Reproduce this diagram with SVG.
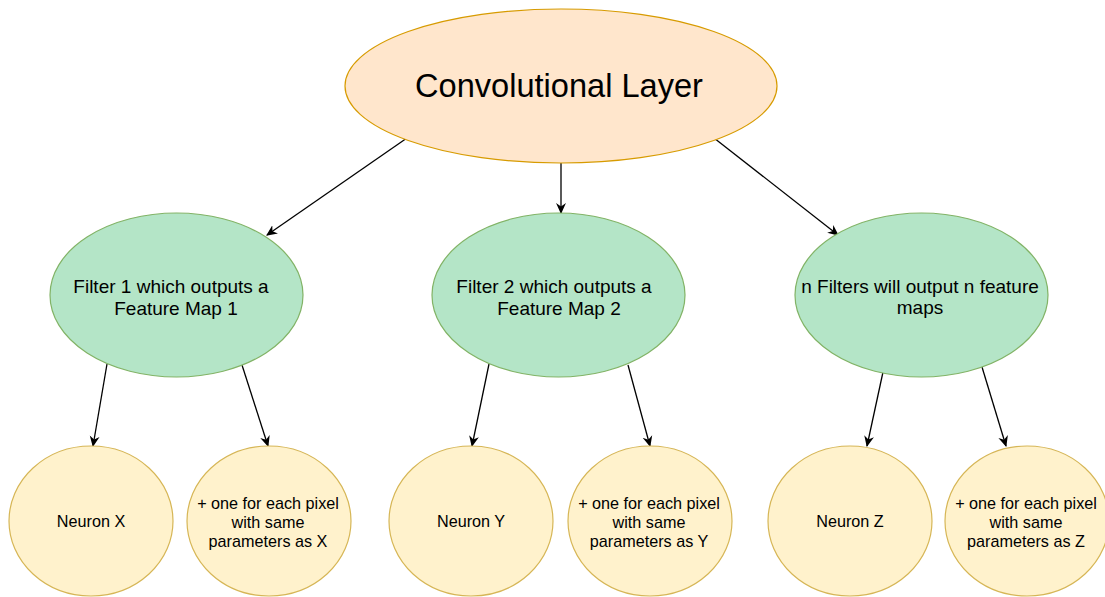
<svg xmlns="http://www.w3.org/2000/svg" width="1105" height="597" viewBox="0 0 1105 597">
  <style>
    .layer { fill: #ffe6cc; stroke: #d79b00; stroke-width: 1.2; }
    .filter { fill: #b4e5c7; stroke: #82b366; stroke-width: 1.2; }
    .neuron { fill: #fff2cc; stroke: #d6b656; stroke-width: 1.2; }
    text { font-family: "Liberation Sans", Arial, Helvetica, sans-serif; fill: #000; text-anchor: middle; }
    .t-big { font-size: 32.6px; }
    .t-mid { font-size: 19px; }
    .t-small { font-size: 16.2px; }
    .edge { stroke: #000; stroke-width: 1.3; fill: none; marker-end: url(#arrow); }
  </style>
  <defs>
    <marker id="arrow" viewBox="0 0 10 10" refX="9" refY="5" markerWidth="11" markerHeight="11" markerUnits="userSpaceOnUse" orient="auto">
      <path d="M0,0.5 L10,5 L0,9.5 L3,5 z" fill="#000"/>
    </marker>
  </defs>

  <rect width="1105" height="597" fill="#fff"/>

  <!-- connectors -->
  <g id="connectors">
    <line class="edge" x1="407" y1="138" x2="267" y2="235"/>
    <line class="edge" x1="561" y1="163" x2="561" y2="213"/>
    <line class="edge" x1="714" y1="138" x2="838" y2="235"/>

    <line class="edge" x1="107" y1="364" x2="93" y2="446"/>
    <line class="edge" x1="242" y1="365" x2="268" y2="446"/>

    <line class="edge" x1="489" y1="364" x2="472" y2="446"/>
    <line class="edge" x1="628" y1="365" x2="650" y2="446"/>

    <line class="edge" x1="883" y1="372" x2="867" y2="446"/>
    <line class="edge" x1="982" y1="367" x2="1006" y2="446"/>
  </g>

  <!-- top node -->
  <g id="conv-layer">
    <ellipse class="layer" cx="561" cy="86" rx="216" ry="77"/>
    <text class="t-big" x="559" y="97">Convolutional Layer</text>
  </g>

  <!-- filter nodes -->
  <g id="filter-1">
    <ellipse class="filter" cx="176.5" cy="295" rx="126.5" ry="82"/>
    <text class="t-mid" x="171" y="293">Filter 1 which outputs a</text>
    <text class="t-mid" x="176" y="315">Feature Map 1</text>
  </g>
  <g id="filter-2">
    <ellipse class="filter" cx="558.5" cy="295" rx="126.5" ry="82"/>
    <text class="t-mid" x="554" y="293">Filter 2 which outputs a</text>
    <text class="t-mid" x="559" y="315">Feature Map 2</text>
  </g>
  <g id="filter-n">
    <ellipse class="filter" cx="921.5" cy="295" rx="126.5" ry="82"/>
    <text class="t-mid" x="920" y="293">n Filters will output n feature</text>
    <text class="t-mid" x="920" y="314">maps</text>
  </g>

  <!-- neuron nodes -->
  <g id="neuron-x">
    <ellipse class="neuron" cx="91" cy="521" rx="82" ry="75"/>
    <text class="t-small" x="91" y="527">Neuron X</text>
  </g>
  <g id="pixels-x">
    <ellipse class="neuron" cx="269" cy="521" rx="82" ry="75"/>
    <text class="t-small" x="268" y="509">+ one for each pixel</text>
    <text class="t-small" x="268" y="528">with same</text>
    <text class="t-small" x="268" y="547">parameters as X</text>
  </g>

  <g id="neuron-y">
    <ellipse class="neuron" cx="471" cy="521" rx="82" ry="75"/>
    <text class="t-small" x="471" y="527">Neuron Y</text>
  </g>
  <g id="pixels-y">
    <ellipse class="neuron" cx="650" cy="521" rx="82" ry="75"/>
    <text class="t-small" x="649" y="509">+ one for each pixel</text>
    <text class="t-small" x="649" y="528">with same</text>
    <text class="t-small" x="649" y="547">parameters as Y</text>
  </g>

  <g id="neuron-z">
    <ellipse class="neuron" cx="850" cy="521" rx="82" ry="75"/>
    <text class="t-small" x="850" y="527">Neuron Z</text>
  </g>
  <g id="pixels-z">
    <ellipse class="neuron" cx="1027" cy="521" rx="82" ry="75"/>
    <text class="t-small" x="1026" y="509">+ one for each pixel</text>
    <text class="t-small" x="1026" y="528">with same</text>
    <text class="t-small" x="1026" y="547">parameters as Z</text>
  </g>
</svg>
